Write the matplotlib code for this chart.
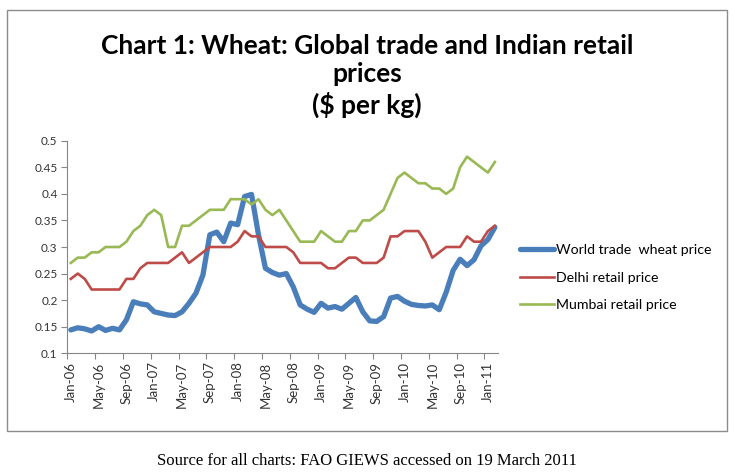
import numpy as np
import pandas as pd
import matplotlib
matplotlib.use("Agg")
import matplotlib.pyplot as plt
from matplotlib.patches import Rectangle

# monthly categories Jan-06 .. Feb-11
months = pd.date_range("2006-01-01", periods=62, freq="MS").strftime("%b-%y").tolist()

world_price = [0.144, 0.148, 0.146, 0.142, 0.150, 0.143, 0.147, 0.144, 0.163, 0.197,
               0.193, 0.191, 0.178, 0.175, 0.172, 0.171, 0.178, 0.194, 0.213, 0.247,
               0.323, 0.328, 0.310, 0.345, 0.342, 0.395, 0.399, 0.323, 0.260, 0.252,
               0.247, 0.250, 0.225, 0.191, 0.183, 0.177, 0.194, 0.185, 0.188, 0.183,
               0.194, 0.205, 0.178, 0.161, 0.160, 0.169, 0.204, 0.207, 0.198, 0.192,
               0.190, 0.189, 0.191, 0.182, 0.215, 0.256, 0.277, 0.265, 0.276, 0.302,
               0.314, 0.337]

delhi_price = [0.24, 0.25, 0.24, 0.22, 0.22, 0.22, 0.22, 0.22, 0.24, 0.24,
               0.26, 0.27, 0.27, 0.27, 0.27, 0.28, 0.29, 0.27, 0.28, 0.29,
               0.30, 0.30, 0.30, 0.30, 0.31, 0.33, 0.32, 0.32, 0.30, 0.30,
               0.30, 0.30, 0.29, 0.27, 0.27, 0.27, 0.27, 0.26, 0.26, 0.27,
               0.28, 0.28, 0.27, 0.27, 0.27, 0.28, 0.32, 0.32, 0.33, 0.33,
               0.33, 0.31, 0.28, 0.29, 0.30, 0.30, 0.30, 0.32, 0.31, 0.31,
               0.33, 0.34]

mumbai_price = [0.27, 0.28, 0.28, 0.29, 0.29, 0.30, 0.30, 0.30, 0.31, 0.33,
                0.34, 0.36, 0.37, 0.36, 0.30, 0.30, 0.34, 0.34, 0.35, 0.36,
                0.37, 0.37, 0.37, 0.39, 0.39, 0.39, 0.38, 0.39, 0.37, 0.36,
                0.37, 0.35, 0.33, 0.31, 0.31, 0.31, 0.33, 0.32, 0.31, 0.31,
                0.33, 0.33, 0.35, 0.35, 0.36, 0.37, 0.40, 0.43, 0.44, 0.43,
                0.42, 0.42, 0.41, 0.41, 0.40, 0.41, 0.45, 0.47, 0.46, 0.45,
                0.44, 0.46]

labels = ["World trade  wheat price", "Delhi retail price", "Mumbai retail price"]
y_ticks = [0.1, 0.15, 0.2, 0.25, 0.3, 0.35, 0.4, 0.45, 0.5]

plt.rcParams["font.family"] = ["Lato", "DejaVu Sans"]

fig = plt.figure(figsize=(7.35, 4.73), dpi=100)
ax = fig.add_axes([0.0916, 0.2531, 0.5864, 0.4494])

x = np.arange(len(months))
ax.plot(x, world_price, color="#4a7ebb", lw=3.8, solid_capstyle="round", label=labels[0])
ax.plot(x, delhi_price, color="#be4b48", lw=1.9, label=labels[1])
ax.plot(x, mumbai_price, color="#98b954", lw=1.9, label=labels[2])

ax.set_xlim(-0.5, len(months) - 0.5)
ax.set_ylim(0.1, 0.5)
ax.set_yticks(y_ticks)
ax.set_yticklabels([f"{v:g}" for v in y_ticks], fontsize=8.5, color="#333333")

# tick marks between categories, labels centred on categories
ax.set_xticks(np.arange(-0.5, len(months), 4))
ax.set_xticklabels([])
ax.set_xticks(x[::4], minor=True)
ax.set_xticklabels(months[::4], minor=True, rotation=90, fontsize=9.5, color="#333333")
ax.tick_params(axis="x", which="minor", length=0, pad=6)
ax.tick_params(axis="x", which="major", length=4, color="#868686")
ax.tick_params(axis="y", length=4, color="#868686", pad=3)

for s in ["top", "right"]:
    ax.spines[s].set_visible(False)
for s in ["left", "bottom"]:
    ax.spines[s].set_color("#868686")

fig.legend(loc="center left", bbox_to_anchor=(0.7075, 0.4133), frameon=False,
           fontsize=10.2, handlelength=2.4, handletextpad=0.15, labelspacing=1.1,
           borderpad=0, borderaxespad=0)

fig.text(0.4993, 0.928, "Chart 1: Wheat: Global trade and Indian retail\nprices\n($ per kg)",
         ha="center", va="top", fontsize=19, fontweight="bold", linespacing=1.22)

# chart border
fig.patches.append(Rectangle((0.0095, 0.0888), 0.9796, 0.890, transform=fig.transFigure,
                             fill=False, edgecolor="#8c8c8c", lw=1))

fig.text(0.4993, 0.025, "Source for all charts: FAO GIEWS accessed on 19 March 2011",
         ha="center", va="center", fontsize=12, family=["Liberation Serif", "DejaVu Serif"])

fig.savefig("out.png", dpi=100)
